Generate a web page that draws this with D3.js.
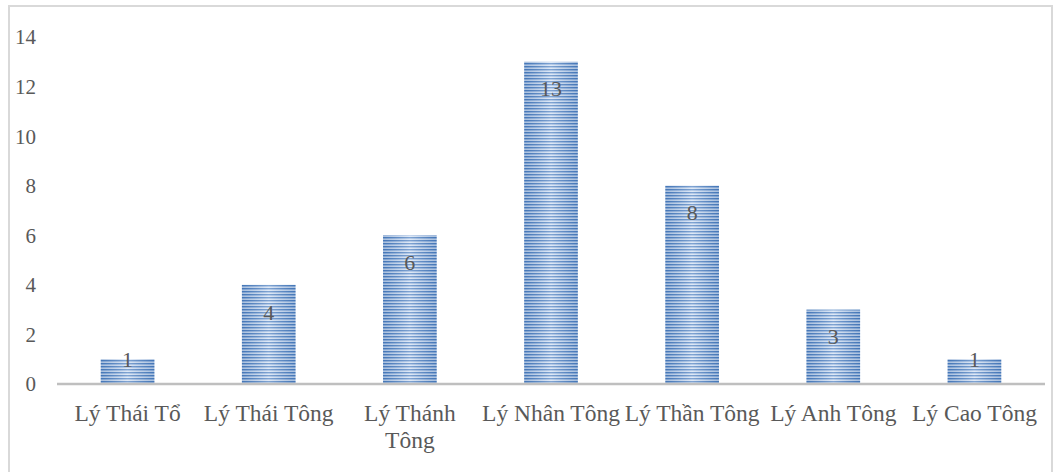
<!DOCTYPE html>
<html>
<head>
<meta charset="utf-8">
<script src="https://cdn.jsdelivr.net/npm/d3@7"></script>
<style>
  html, body { margin: 0; padding: 0; background: #ffffff; }
  svg { display: block; }
  text { font-family: "Liberation Serif", "Times New Roman", serif; fill: #595959; }
</style>
</head>
<body>
<svg id="chart" width="1054" height="472"></svg>
<script>
// Number of Lý-dynasty entries per reign
const categories = ["Lý Thái Tổ", "Lý Thái Tông", "Lý Thánh Tông", "Lý Nhân Tông", "Lý Thần Tông", "Lý Anh Tông", "Lý Cao Tông"];
const values = [1, 4, 6, 13, 8, 3, 1];
const yTicks = [0, 2, 4, 6, 8, 10, 12, 14];

const svg = d3.select("#chart");
const W = 1054, H = 472;
const plot = { left: 57, right: 1045, top: 37, bottom: 384 };

// Chart frame
svg.append("rect")
  .attr("x", 9).attr("y", 6)
  .attr("width", 1043).attr("height", H + 10)
  .attr("fill", "#ffffff")
  .attr("stroke", "#d9d9d9").attr("stroke-width", 2);

const defs = svg.append("defs");

// Horizontal stripe fill for the bars
const pat = defs.append("pattern")
  .attr("id", "stripes")
  .attr("patternUnits", "userSpaceOnUse")
  .attr("width", 8).attr("height", 3);
pat.append("rect").attr("x", 0).attr("y", 0).attr("width", 8).attr("height", 3).attr("fill", "#d2e0f3");
pat.append("rect").attr("x", 0).attr("y", 0).attr("width", 8).attr("height", 1.2).attr("fill", "#4a7dbf");
pat.append("rect").attr("x", 0).attr("y", 1.2).attr("width", 8).attr("height", 0.6).attr("fill", "#86a9da");

// Soft sheen across each bar: edges darker, centre lighter
const sheen = defs.append("linearGradient")
  .attr("id", "sheen")
  .attr("x1", "0%").attr("x2", "100%").attr("y1", "0%").attr("y2", "0%");
sheen.append("stop").attr("offset", "0%").attr("stop-color", "#2f5f9e").attr("stop-opacity", 0.25);
sheen.append("stop").attr("offset", "50%").attr("stop-color", "#ffffff").attr("stop-opacity", 0.3);
sheen.append("stop").attr("offset", "100%").attr("stop-color", "#2f5f9e").attr("stop-opacity", 0.25);

const x = d3.scaleBand()
  .domain(categories)
  .range([plot.left, plot.right])
  .paddingInner(0.62)
  .paddingOuter(0.31);

const y = d3.scaleLinear()
  .domain([0, 14])
  .range([plot.bottom, plot.top]);

// Y axis labels (no axis line, no gridlines)
const yAxis = d3.axisLeft(y).tickValues(yTicks).tickSize(0).tickPadding(0);
const gy = svg.append("g").attr("transform", "translate(36,0)").call(yAxis);
gy.select(".domain").remove();
gy.selectAll("text")
  .attr("font-size", 21)
  .attr("fill", "#595959")
  .attr("font-family", "'Liberation Serif', 'Times New Roman', serif")
  .attr("dy", "0.33em");

// Bars
const bars = svg.append("g");
const data = categories.map((c, i) => ({ c, v: values[i] }));
bars.selectAll("rect.bar")
  .data(data)
  .join("rect")
  .attr("class", "bar")
  .attr("x", d => x(d.c))
  .attr("y", d => y(d.v))
  .attr("width", x.bandwidth())
  .attr("height", d => y(0) - y(d.v))
  .attr("fill", "url(#stripes)");
bars.selectAll("rect.sheen")
  .data(data)
  .join("rect")
  .attr("class", "sheen")
  .attr("x", d => x(d.c))
  .attr("y", d => y(d.v))
  .attr("width", x.bandwidth())
  .attr("height", d => y(0) - y(d.v))
  .attr("fill", "url(#sheen)");

// Category axis line
const xAxis = d3.axisBottom(x).tickSize(0).tickPadding(0);
const gx = svg.append("g").attr("transform", `translate(0,${plot.bottom})`).call(xAxis);
gx.select(".domain")
  .attr("stroke", "#bfbfbf").attr("stroke-width", 2.5)
  .attr("d", `M${plot.left},0H${plot.right}`);

// Category labels, wrapped to the category width
const step = x.step();
gx.selectAll(".tick text")
  .attr("font-size", 23.5)
  .attr("fill", "#595959")
  .attr("font-family", "'Liberation Serif', 'Times New Roman', serif")
  .attr("y", 0)
  .attr("dy", null)
  .each(function (d) {
    const t = d3.select(this);
    const words = d.split(" ");
    t.text(null);
    let line = [];
    let lines = [];
    const probe = t.append("tspan");
    words.forEach(w => {
      const trial = line.concat(w).join(" ");
      probe.text(trial);
      if (probe.node().getComputedTextLength() > step + 2 && line.length) {
        lines.push(line.join(" "));
        line = [w];
      } else {
        line.push(w);
      }
    });
    lines.push(line.join(" "));
    probe.remove();
    lines.forEach((l, i) => {
      t.append("tspan").attr("x", 0).attr("y", 37 + i * 27).text(l);
    });
  });

// Value labels near the top of each bar
svg.append("g").selectAll("text")
  .data(data)
  .join("text")
  .attr("x", d => x(d.c) + x.bandwidth() / 2)
  .attr("y", d => {
    const h = y(0) - y(d.v);
    const offset = h > 40 ? 27 : 0;
    return y(d.v) + offset;
  })
  .attr("dy", "0.35em")
  .attr("text-anchor", "middle")
  .attr("font-size", 22)
  .attr("fill", "#404040")
  .text(d => d.v);
</script>
</body>
</html>
